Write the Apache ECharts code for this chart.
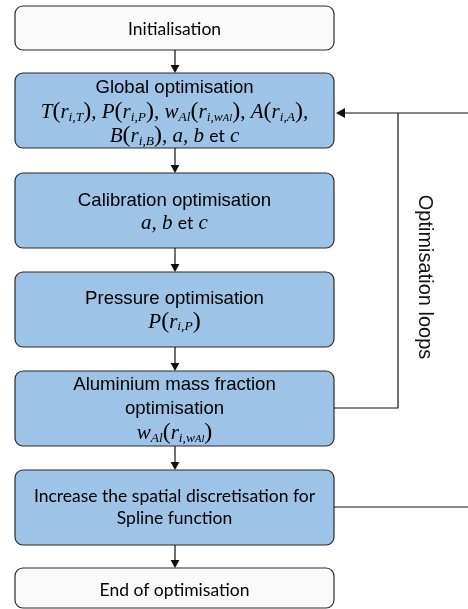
<!DOCTYPE html>
<html><head><meta charset="utf-8">
<script src="https://cdn.jsdelivr.net/npm/echarts@6/dist/echarts.min.js"></script>
<style>html,body{margin:0;padding:0;background:#fff}#c{width:468px;height:609px}</style>
</head><body><div id="c"></div>
<script>
// ---- flowchart content ----
const steps = [
  'Initialisation',
  'Global optimisation',
  'Calibration optimisation',
  'Pressure optimisation',
  'Aluminium mass fraction optimisation',
  'Increase the spatial discretisation for Spline function',
  'End of optimisation'
];
const stepKinds = ['terminal', 'process', 'process', 'process', 'process', 'process', 'terminal'];
const stepRich = [
  '{c|Initialisation}',
  '{h|Global optimisation}\n{m|T}{p|(}{m|r}{s|i,T}{p|)}{m|, P}{p|(}{m|r}{s|i,P}{p|)}{m|, w}{s|Al}{p|(}{m|r}{s|i,w}{ss|Al}{p|)}{m|, A}{p|(}{m|r}{s|i,A}{p|)}{m|,}\n{m|B}{p|(}{m|r}{s|i,B}{p|)}{m|, a, b }{e|et}{m| c}',
  '{h|Calibration optimisation}\n{m|a, b }{e|et}{m| c}',
  '{h|Pressure optimisation}\n{m|P}{p|(}{m|r}{s|i,P}{p|)}',
  '{h|Aluminium mass fraction}\n{h|optimisation}\n{m|w}{s|Al}{p|(}{m|r}{s|i,w}{ss|Al}{p|)}',
  '{c|Increase the spatial discretisation for}\n{c|Spline function}',
  '{c|End of optimisation}'
];
const loopLabel = 'Optimisation loops';

// ---- layout (canvas units) ----
const boxX = [15, 334];
const boxTop = [6, 73, 173, 272, 371, 470, 568];
const boxBottom = [50, 148, 248, 347, 446, 545, 608];
const lineGap = [22, 24, 22.5, 23, 24, 21.5, 22];
const textShift = [1, 1.5, 1.5, 1, 0.5, 0, 2.5];
const arrowX = 175;
const loopX = 398;
const loopFromY = 408;
const loopToY = 113;
const edgeX = 468;
const refineY = 507;
const loopLabelPos = [425, 277];

const baseRich = {
  h: {fontFamily: 'Liberation Sans', fontSize: 18.6, color: '#111'},
  c: {fontFamily: 'Lato', fontSize: 17.5, color: '#111'},
  e: {fontFamily: 'Lato', fontSize: 17.5, color: '#111'},
  m: {fontFamily: 'Liberation Serif', fontStyle: 'italic', fontSize: 21, color: '#111'},
  p: {fontFamily: 'Liberation Serif', fontSize: 24, color: '#111'},
  s: {fontFamily: 'Liberation Serif', fontStyle: 'italic', fontSize: 13.5, color: '#111', lineHeight: 10, verticalAlign: 'bottom'},
  ss: {fontFamily: 'Liberation Serif', fontStyle: 'italic', fontSize: 10.5, color: '#111', lineHeight: 5, verticalAlign: 'bottom'}
};
function richFor(gap) {
  const r = {};
  Object.keys(baseRich).forEach(k => {
    r[k] = Object.assign({}, baseRich[k]);
    if (k !== 's' && k !== 'ss') r[k].lineHeight = gap;
  });
  return r;
}

const chart = echarts.init(document.getElementById('c'), null, {renderer: 'canvas'});

function arrowHead(tip, dir, size) {
  const s = size, w = size * 0.55;
  if (dir === 'down') return [[tip[0] - w, tip[1] - s], [tip[0] + w, tip[1] - s], tip];
  return [[tip[0] + s, tip[1] - w], [tip[0] + s, tip[1] + w], tip];
}

chart.setOption({
  animation: false,
  grid: {left: 0, right: 0, top: 0, bottom: 0},
  xAxis: {type: 'value', min: 0, max: 468, show: false},
  yAxis: {type: 'value', min: 0, max: 609, inverse: true, show: false},
  series: [
    {
      type: 'custom',
      data: steps.map((s, i) => [i]),
      renderItem: function (params, api) {
        const i = api.value(0);
        const p0 = api.coord([boxX[0], boxTop[i]]);
        const p1 = api.coord([boxX[1], boxBottom[i]]);
        const fill = stepKinds[i] === 'terminal' ? '#fafafa' : '#9dc3e6';
        return {
          type: 'group',
          children: [
            {type: 'rect', shape: {x: p0[0], y: p0[1], width: p1[0] - p0[0], height: p1[1] - p0[1], r: 8},
             style: {fill: fill, stroke: '#2b2b2b', lineWidth: 1.2}},
            {type: 'text', x: (p0[0] + p1[0]) / 2, y: (p0[1] + p1[1]) / 2 + textShift[i],
             style: {text: stepRich[i], rich: richFor(lineGap[i]), align: 'center', verticalAlign: 'middle'}}
          ]
        };
      }
    },
    {
      type: 'custom',
      data: steps.slice(1).map((s, i) => [i]),
      renderItem: function (params, api) {
        const i = api.value(0);
        const a = api.coord([arrowX, boxBottom[i]]);
        const b = api.coord([arrowX, boxTop[i + 1]]);
        return {
          type: 'group',
          children: [
            {type: 'line', shape: {x1: a[0], y1: a[1], x2: b[0], y2: b[1] - 6}, style: {stroke: '#111', lineWidth: 1.2}},
            {type: 'polygon', shape: {points: arrowHead(b, 'down', 8)}, style: {fill: '#111'}}
          ]
        };
      }
    },
    {
      type: 'custom',
      data: [[0]],
      renderItem: function (params, api) {
        const a = api.coord([boxX[1], loopFromY]);
        const b = api.coord([loopX, loopFromY]);
        const c = api.coord([loopX, loopToY]);
        const d = api.coord([edgeX, loopToY]);
        const tip = api.coord([boxX[1] + 2, loopToY]);
        const r0 = api.coord([boxX[1], refineY]);
        const r1 = api.coord([edgeX, refineY]);
        const lbl = api.coord(loopLabelPos);
        return {
          type: 'group',
          children: [
            {type: 'polyline', shape: {points: [a, b, c]}, style: {stroke: '#111', lineWidth: 1.2, fill: null}},
            {type: 'line', shape: {x1: d[0], y1: d[1], x2: tip[0] + 6, y2: tip[1]}, style: {stroke: '#111', lineWidth: 1.2}},
            {type: 'polygon', shape: {points: arrowHead(tip, 'left', 9)}, style: {fill: '#111'}},
            {type: 'line', shape: {x1: r0[0], y1: r0[1], x2: r1[0], y2: r1[1]}, style: {stroke: '#111', lineWidth: 1.2}},
            {type: 'text', x: lbl[0], y: lbl[1], rotation: -Math.PI / 2,
             style: {text: loopLabel, font: '20px "Liberation Sans", Arial', fill: '#111', align: 'center', verticalAlign: 'middle'}}
          ]
        };
      }
    }
  ]
});
</script>
</body></html>
